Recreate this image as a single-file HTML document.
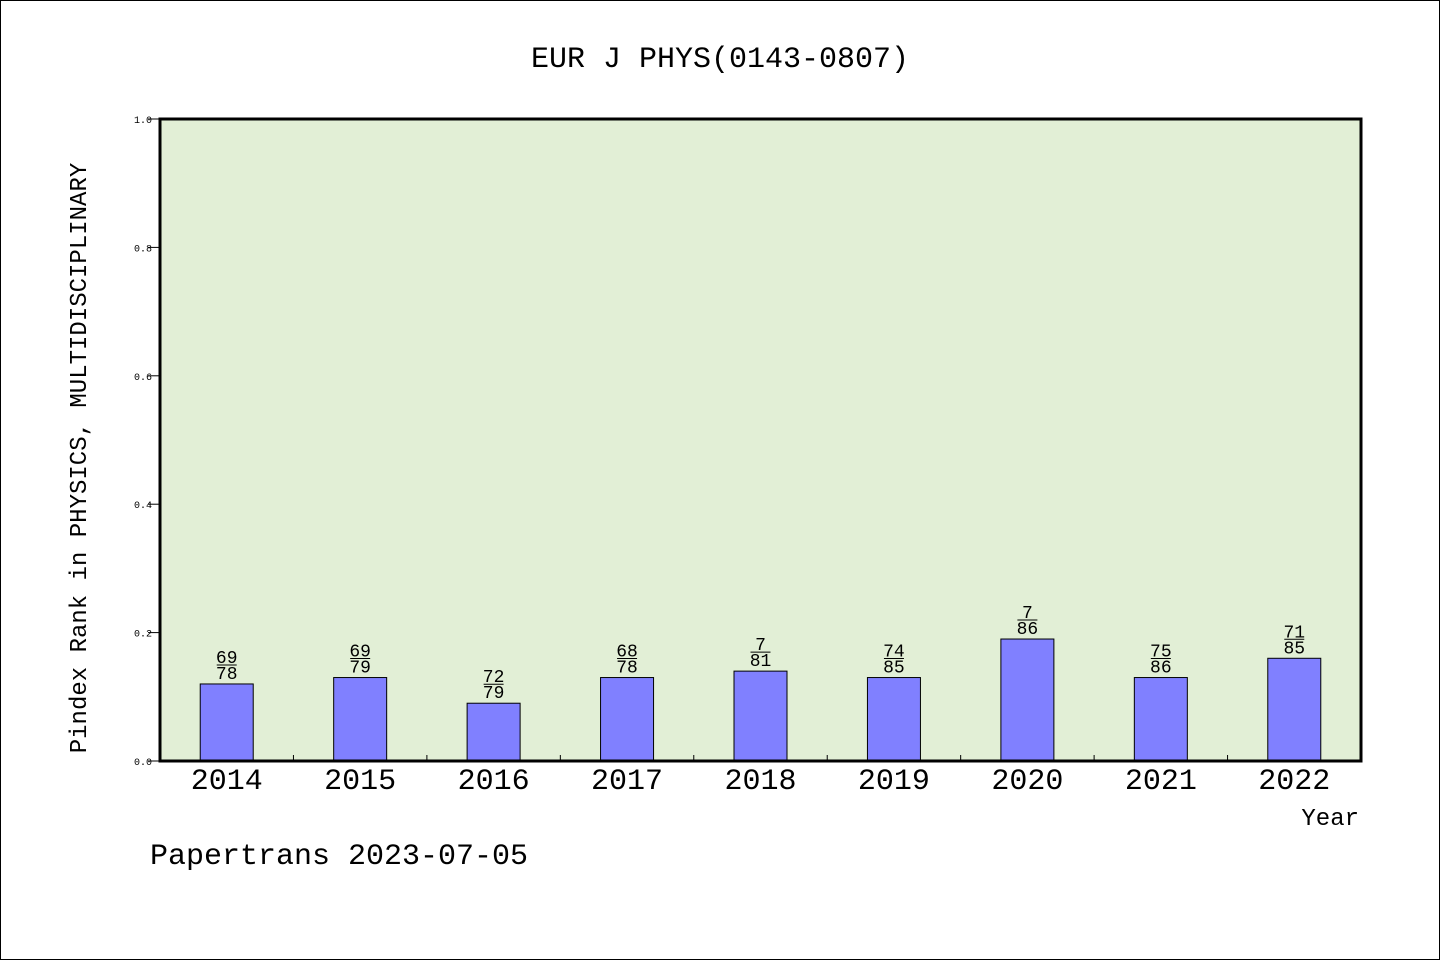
<!DOCTYPE html>
<html><head><meta charset="utf-8"><style>
html,body{margin:0;padding:0;background:#fff}
svg{display:block}
text{font-family:"WenQuanYi Zen Hei","Liberation Mono",monospace}
</style></head><body>
<svg id="chart" width="1440" height="960">
<rect x="0.5" y="0.5" width="1439" height="959" fill="#fff" stroke="#000"/>
<text x="720" y="67" font-size="30" text-anchor="middle">EUR J PHYS(0143-0807)</text>
<rect x="160" y="119" width="1201" height="642" fill="#e2efd6"/>
<g id="yaxis"></g><g id="bars"></g><g id="xaxis"></g>
<rect x="160" y="119" width="1201" height="642" fill="none" stroke="#000" stroke-width="3"/>
<text x="86" y="458" font-size="24" text-anchor="middle" transform="rotate(-90 86 458)">Pindex Rank in PHYSICS, MULTIDISCIPLINARY</text>
<text x="1359" y="825" font-size="24" text-anchor="end">Year</text>
<text x="150" y="864" font-size="30">Papertrans 2023-07-05</text>
</svg>
<script>
const years=["2014","2015","2016","2017","2018","2019","2020","2021","2022"];
const values=[0.12,0.13,0.09,0.13,0.14,0.13,0.19,0.13,0.16];
const ranks=["69","69","72","68","7","74","7","75","71"];
const totals=["78","79","79","78","81","85","86","86","85"];
const yTicks=[0,0.2,0.4,0.6,0.8,1.0];
const yTickLabels=["0.0","0.2","0.4","0.6","0.8","1.0"];
const X0=160,X1=1361,Y0=761,Y1=119;
const band=(X1-X0)/years.length;
function xC(i){return X0+band*(i+0.5);}
function yS(v){return Y0-(Y0-Y1)*v;}
const NS="http://www.w3.org/2000/svg";
function mk(tag,attrs,parent){const e=document.createElementNS(NS,tag);for(const k in attrs)e.setAttribute(k,attrs[k]);parent.appendChild(e);return e;}
const ya=document.getElementById('yaxis'),bg=document.getElementById('bars'),xa=document.getElementById('xaxis');
yTicks.forEach((t,i)=>{
 const l=mk('line',{x1:X0-12,x2:X0,y1:yS(t),y2:yS(t),stroke:'#000'},ya);
 
 
 const tx=mk('text',{x:X0-8-144+140,y:yS(t)+4,'font-size':10,'text-anchor':'end'},ya);
 tx.setAttribute('x',152);
 tx.textContent=yTickLabels[i];
 
 
});
years.forEach((y,i)=>{
 const cx=xC(i),top=yS(values[i]);
 const r=mk('rect',{x:cx-26.5,y:top,width:53,height:Y0-top,fill:'#8080ff',stroke:'#000','stroke-width':1},bg);
 
 
 const n=mk('text',{x:cx,y:top-21,'font-size':18,'text-anchor':'middle'},bg);
 n.textContent=ranks[i];
 
 
 const fl=mk('line',{x1:cx-10,x2:cx+10,y1:top-19,y2:top-19,stroke:'#000'},bg);
 
 
 const d=mk('text',{x:cx,y:top-5,'font-size':18,'text-anchor':'middle'},bg);
 d.textContent=totals[i];
 
 
 const xl=mk('text',{x:cx,y:789,'font-size':30,'text-anchor':'middle'},xa);
 xl.textContent=y;
 
 
 if(i>0){const tk=mk('line',{x1:X0+band*i,x2:X0+band*i,y1:Y0,y2:Y0-6,stroke:'#000'},xa);
 
 }
});
</script>
</body></html>
